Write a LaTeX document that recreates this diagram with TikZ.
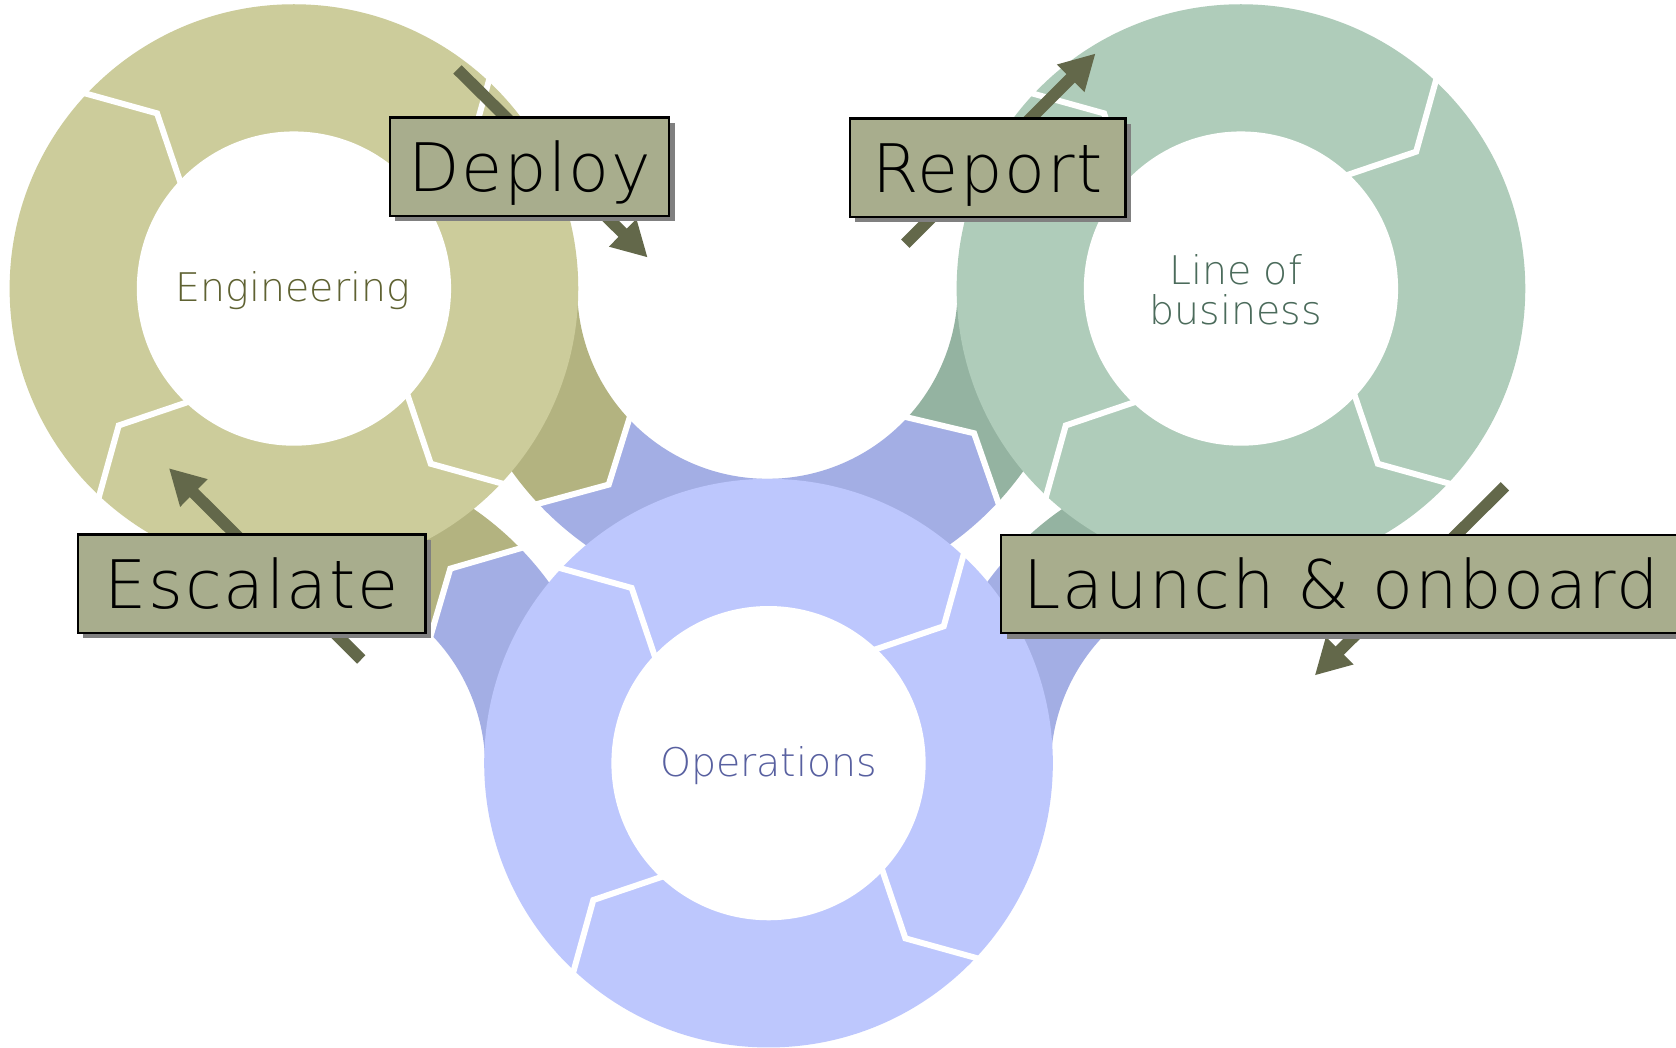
\documentclass[tikz,border=0pt]{standalone}
\usepackage{fontspec}
\IfFontExistsTF{DejaVu Sans ExtraLight}
  {\setmainfont{DejaVu Sans ExtraLight}}
  {\setmainfont{DejaVu Sans}}
\usetikzlibrary{arrows.meta,shadows,calc}

\definecolor{engLight}{HTML}{CCCC9B}
\definecolor{engDark}{HTML}{B3B380}
\definecolor{engText}{HTML}{5F6232}
\definecolor{lobLight}{HTML}{AFCCBA}
\definecolor{lobDark}{HTML}{94B3A1}
\definecolor{lobText}{HTML}{4B6B5B}
\definecolor{opsLight}{HTML}{BDC7FD}
\definecolor{opsDark}{HTML}{A3AEE4}
\definecolor{opsText}{HTML}{5860A0}
\definecolor{boxFill}{HTML}{A8AD8D}
\definecolor{arrowCol}{HTML}{63684A}

\tikzset{
  labelbox/.style={draw=black, line width=0.6pt, fill=boxFill, inner sep=0pt,
    minimum height=0.92cm, text height=13pt, text depth=0pt,
    font=\fontsize{17.8}{20}\selectfont\addfontfeature{LetterSpace=2.5},
    drop shadow={shadow xshift=0.05cm, shadow yshift=-0.05cm, fill=black!50, opacity=1}},
  flowarrow/.style={draw=arrowCol, line width=0.11cm, -{Triangle[length=0.33cm, width=0.34cm]}},
  gapline/.style={white, line width=0.056cm},
  ringtext/.style={font=\fontsize{10.5}{10.5}\selectfont, align=center},
}

% one dark segment: centre, from, to, bend at from, bend at to, colour
\newcommand{\darkseg}[6]{%
  \fill[#6] ($(#1)+(#2:294)$) arc[start angle=#2, end angle=#3, radius=294]
    -- ($(#1)+(#3+#5:236)$) -- ($(#1)+(#3:178)$)
    arc[start angle=#3, end angle=#2, radius=178]
    -- ($(#1)+(#2+#4:236)$) -- cycle;}

\begin{document}
\begin{tikzpicture}[x=0.01cm, y=0.01cm]
    \useasboundingbox (0,0) rectangle (1568,980);
    \fill[white] (0,0) rectangle (1568,980);
    % Ring centres
    \coordinate (eng) at (275,710);
    \coordinate (lob) at (1161,710);
    \coordinate (ops) at (719,266);
    \coordinate (back-top) at (718,710);
    \coordinate (back-left) at (276,262);
    \coordinate (back-right) at (1161,262);
    % Dark back layer
    \darkseg{back-top}{178}{223}{0}{8}{engDark}
    \darkseg{back-top}{223}{317}{8}{8}{opsDark}
    \darkseg{back-top}{317}{362}{8}{0}{lobDark}
    \darkseg{back-left}{-2}{44}{0}{8}{opsDark}
    \darkseg{back-left}{44}{100}{8}{0}{engDark}
    \darkseg{back-right}{80}{136}{0}{8}{lobDark}
    \darkseg{back-right}{136}{182}{8}{0}{opsDark}
    \foreach \c/\a in {back-top/223, back-top/317, back-left/44, back-right/136}
        \draw[gapline] ($(\c)+(\a:296)$) -- ($(\c)+(\a+8:236)$) -- ($(\c)+(\a:176)$);
    % Front rings
    \foreach \c/\col in {eng/engLight, lob/lobLight, ops/opsLight} {
        \fill[\col] (\c) circle (266);
        \fill[white] (\c) circle (147);
        \foreach \a in {47,137,227,317}
            \draw[gapline] ($(\c)+(\a:268)$) -- ($(\c)+(\a-9:208)$) -- ($(\c)+(\a:145)$);
    }
    % Ring labels
    \node[ringtext, text=engText] (eng-label) at (274,708) {Engineering};
    \node[ringtext, text=lobText] (lob-label) at (1156,709) {Line of\\business};
    \node[ringtext, text=opsText] (ops-label) at (719,264) {Operations};
    % Arrows
    \coordinate (deploy-from) at (428,915);
    \coordinate (deploy-to) at (606,739);
    \coordinate (report-from) at (847,752);
    \coordinate (report-to) at (1025,930);
    \coordinate (escalate-from) at (338,363);
    \coordinate (escalate-to) at (158,542);
    \coordinate (launch-from) at (1408,525);
    \coordinate (launch-to) at (1230,348);
    \draw[flowarrow] (deploy-from) -- (deploy-to);
    \draw[flowarrow] (report-from) -- (report-to);
    \draw[flowarrow] (escalate-from) -- (escalate-to);
    \draw[flowarrow] (launch-from) -- (launch-to);
    % Label boxes
    \node[labelbox, minimum width=2.61cm] (deploy) at (495.5,824) {Deploy};
    \node[labelbox, minimum width=2.58cm] (report) at (924,823) {Report};
    \node[labelbox, minimum width=3.25cm] (escalate) at (235.5,434) {Escalate};
    \node[labelbox, minimum width=6.36cm] (launch) at (1255,433.5) {Launch \& onboard};
\end{tikzpicture}
\end{document}
